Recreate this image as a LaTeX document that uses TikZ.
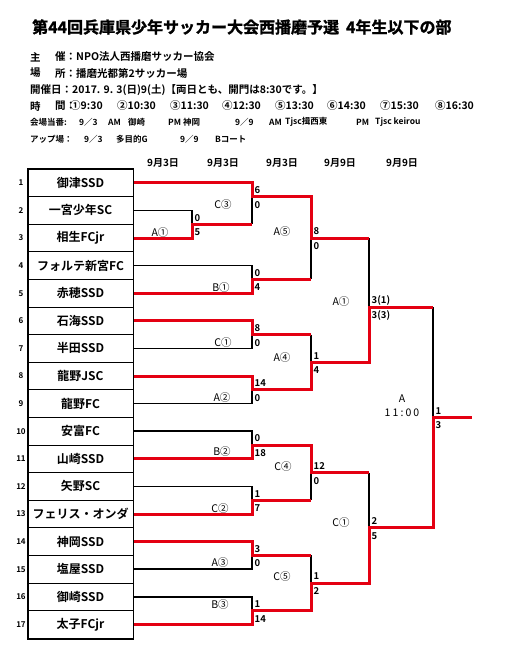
\documentclass[tikz,border=0pt]{standalone}
\usepackage{fontspec}
\setmainfont{Noto Sans CJK JP}[BoldFont={Noto Sans CJK JP Bold}]
\newfontfamily\popfont{Noto Sans CJK JP Bold}[FakeBold=1.5]
\usetikzlibrary{calc}
\definecolor{winred}{RGB}{228,0,18}
\newcommand\fs[1]{\fontsize{#1}{#1}\selectfont}

\tikzset{
  teambox/.style={draw,line width=1pt,minimum width=105pt,minimum height=27.6pt,inner sep=0pt,font=\bfseries\fs{12}},
  rownum/.style={inner sep=0pt,font=\bfseries\fs{8}},
  lose/.style={line width=1.5pt},
  win/.style={line width=3pt,winred},
  score/.style={anchor=west,inner sep=0pt,xshift=2.5pt,font=\bfseries\fs{9.5}},
  scoretop/.style={score,yshift=6.5pt},
  scorebot/.style={score,yshift=-8pt},
  court/.style={inner sep=0pt,font=\fs{10.5}},
  day/.style={inner sep=0pt,font=\bfseries\fs{10}},
  info/.style={anchor=west,inner sep=0pt,font=\bfseries\fs{10.5}},
  duty/.style={anchor=west,inner sep=0pt,font=\bfseries\fs{8.5}},
}

\begin{document}
\begin{tikzpicture}[x=1pt,y=-1pt]
\useasboundingbox (0,0) rectangle (504,653);
\def\h{13.8}
\def\yo{169}

% heading
\node[anchor=west,inner sep=0pt,font=\popfont\fs{16}] (title) at (32,27) {第44回兵庫県少年サッカー大会西播磨予選\hspace{7pt}4年生以下の部};
\node[info] at (30,57) {主};
\node[info] at (55,57) {催：NPO法人西播磨サッカー協会};
\node[info] at (30,73) {場};
\node[info] at (55,73) {所：播磨光都第2サッカー場};
\node[info] at (30,90) {開催日：2017. 9. 3(日)9(土)【両日とも、開門は8:30です。】};
\node[info] at (30,106) {時};
\node[info] at (55,106) {間：};
\foreach \x/\t in {70/①9:30,117/②10:30,170/③11:30,222/④12:30,275/⑤13:30,327/⑥14:30,380/⑦15:30,435/⑧16:30}
  \node[info] at (\x,106) {\t};
\foreach \x/\t in {30/会場当番:,79/9／3,108/AM,128/御崎,168/PM,183/神岡,235/9／9,269/AM,285/Tjsc揖西東,356/PM,375/Tjsc keirou}
  \node[duty] at (\x,122) {\t};
\foreach \x/\t in {30/アップ場：,84/9／3,116/多目的G,180/9／9,215/Bコート}
  \node[duty] at (\x,139) {\t};

% dates
\foreach \x/\d in {163/9月3日,223/9月3日,282/9月3日,340/9月9日,402/9月9日}
  \node[day] at (\x,163) {\d};

% teams
\foreach \i/\tn in {1/御津SSD,2/一宮少年SC,3/相生FCjr,4/フォルテ新宮FC,5/赤穂SSD,6/石海SSD,7/半田SSD,8/龍野JSC,9/龍野FC,10/安富FC,11/山崎SSD,12/矢野SC,13/フェリス・オンダ,14/神岡SSD,15/塩屋SSD,16/御崎SSD,17/太子FCjr} {
  \node[teambox] (tm\i) at (80.5,{\yo+\h*(2*\i-1)}) {\tn};
  \node[rownum] at (21,{\yo+\h*(2*\i-1)}) {\i};
}
\draw[line width=1.8pt] (tm1.north west) rectangle (tm17.south east);

% games
\coordinate (gA1) at (192,{\yo+4*\h});
\coordinate (gC3) at (252,{\yo+2*\h});
\coordinate (gB1) at (252,{\yo+8*\h});
\coordinate (gC1) at (252,{\yo+12*\h});
\coordinate (gA2) at (252,{\yo+16*\h});
\coordinate (gB2) at (252,{\yo+20*\h});
\coordinate (gC2) at (252,{\yo+24*\h});
\coordinate (gA3) at (252,{\yo+28*\h});
\coordinate (gB3) at (252,{\yo+32*\h});
\coordinate (gA5) at (311,{\yo+5*\h});
\coordinate (gA4) at (311,{\yo+14*\h});
\coordinate (gC4) at (311,{\yo+22*\h});
\coordinate (gC5) at (311,{\yo+30*\h});
\coordinate (sfA1) at (369,{\yo+10*\h});
\coordinate (sfC1) at (369,{\yo+26*\h});
\coordinate (fin) at (433,{\yo+18*\h});
\coordinate (champ) at (472,{\yo+18*\h});

% losers
\draw[lose] (tm2.east) -| (gA1);
\draw[lose] (tm4.east) -| (gB1);
\draw[lose] (tm7.east) -| (gC1);
\draw[lose] (tm9.east) -| (gA2);
\draw[lose] (tm10.east) -| (gB2);
\draw[lose] (tm12.east) -| (gC2);
\draw[lose] (tm15.east) -| (gA3);
\draw[lose] (tm16.east) -| (gB3);
\draw[lose] (gA1 -| gC3) -- (gC3);
\draw[lose] (gB1 -| gA5) -- (gA5);
\draw[lose] (gC1 -| gA4) -- (gA4);
\draw[lose] (gC2 -| gC4) -- (gC4);
\draw[lose] (gA3 -| gC5) -- (gC5);
\draw[lose] (gA5 -| sfA1) -- (sfA1);
\draw[lose] (gC4 -| sfC1) -- (sfC1);
\draw[lose] (sfA1 -| fin) -- (fin);

% winners
\draw[win] (tm1.east) -| (gC3) -| (gA5) -- (gA5 -| sfA1);
\draw[win] (tm3.east) -| (gA1) -- (gA1 -| gC3);
\draw[win] (tm5.east) -| (gB1) -- (gB1 -| gA5);
\draw[win] (tm6.east) -| (gC1) -- (gC1 -| gA4);
\draw[win] (tm8.east) -| (gA2) -| (gA4) -| (sfA1) -- (sfA1 -| fin);
\draw[win] (tm11.east) -| (gB2) -| (gC4) -- (gC4 -| sfC1);
\draw[win] (tm13.east) -| (gC2) -- (gC2 -| gC4);
\draw[win] (tm14.east) -| (gA3) -- (gA3 -| gC5);
\draw[win] (tm17.east) -| (gB3) -| (gC5) -| (sfC1) -| (fin) -- (champ);

% scores
\foreach \g/\a/\b in {gA1/0/5,gC3/6/0,gB1/0/4,gA5/8/0,gC1/8/0,gA2/14/0,gA4/1/4,sfA1/3(1)/3(3),gB2/0/18,gC2/1/7,gC4/12/0,gA3/3/0,gB3/1/14,gC5/1/2,sfC1/2/5,fin/1/3} {
  \node[scoretop] at (\g) {\a};
  \node[scorebot] at (\g) {\b};
}

% courts
\node[court] at ($(gA1)+(-32,8)$) {A①};
\node[court] at ($(gC3)+(-29,8)$) {C③};
\node[court] at ($(gB1)+(-31,8)$) {B①};
\node[court] at ($(gC1)+(-29,8)$) {C①};
\node[court] at ($(gA2)+(-30,8)$) {A②};
\node[court] at ($(gB2)+(-30,7)$) {B②};
\node[court] at ($(gC2)+(-32,8)$) {C②};
\node[court] at ($(gA3)+(-32,7)$) {A③};
\node[court] at ($(gB3)+(-32,-6)$) {B③};
\node[court] at ($(gA5)+(-29,-6)$) {A⑤};
\node[court] at ($(gA4)+(-29,-5)$) {A④};
\node[court] at ($(gC4)+(-28,-6)$) {C④};
\node[court] at ($(gC5)+(-29,-6)$) {C⑤};
\node[court] at ($(sfA1)+(-28,-5)$) {A①};
\node[court] at ($(sfC1)+(-28,-5)$) {C①};
\node[court] at ($(fin)+(-31,-19)$) {A};
\node[court] at ($(fin)+(-31,-5)$) {\addfontfeatures{LetterSpace=20}11:00};
\end{tikzpicture}
\end{document}
